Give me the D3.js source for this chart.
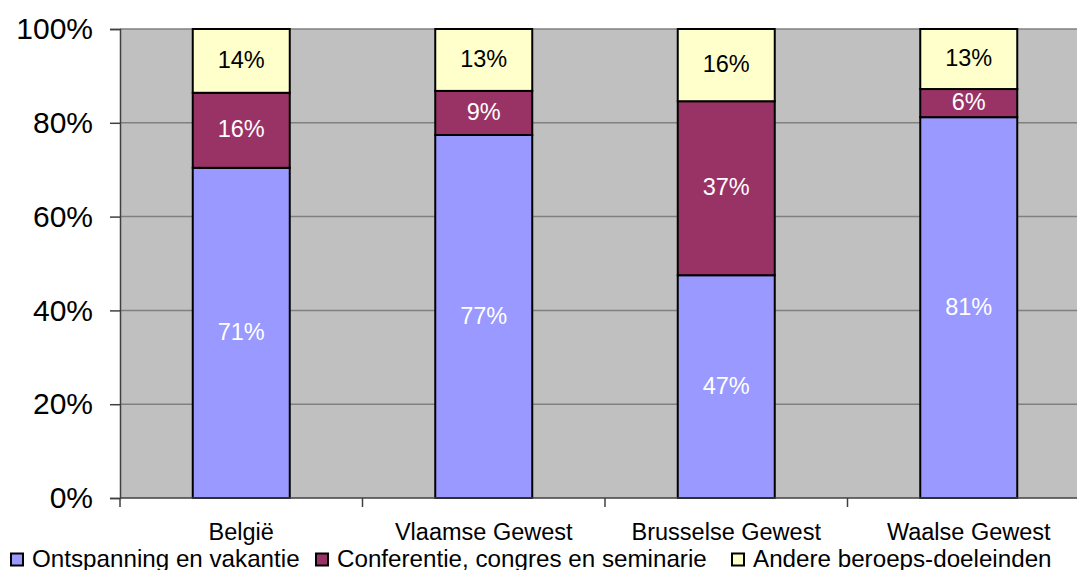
<!DOCTYPE html>
<html>
<head>
<meta charset="utf-8">
<script src="https://cdn.jsdelivr.net/npm/d3@7"></script>
<style>
  body { margin: 0; background: #fff; }
  svg { display: block; font-family: "Liberation Sans", Arial, sans-serif; }
</style>
</head>
<body>
<svg></svg>
<script>
let width = 1077,
    height = 570,
    plotLeft = 120,
    plotRight = 1090,
    plotTop = 29,
    plotBottom = 498

const categories = ["België", "Vlaamse Gewest", "Brusselse Gewest", "Waalse Gewest"]
const seriesNames = ["Ontspanning en vakantie", "Conferentie, congres en seminarie", "Andere beroeps-doeleinden"]
const colors = ["#9999FF", "#993366", "#FFFFCC"]
const textColors = ["#fff", "#fff", "#000"]

// shares (segment heights), labels as printed
const ontspanning = [70.4, 77.4, 47.5, 81.2]
const conferentie = [16.0, 9.4, 37.1, 6.0]
const andere = [13.6, 13.2, 15.4, 12.8]
const labelsOnt = ["71%", "77%", "47%", "81%"]
const labelsConf = ["16%", "9%", "37%", "6%"]
const labelsAnd = ["14%", "13%", "16%", "13%"]
const yTicks = [0, 20, 40, 60, 80, 100]

const series = [ontspanning, conferentie, andere]
const seriesLabels = [labelsOnt, labelsConf, labelsAnd]

let svg = d3.select("svg")
            .attr("width", width)
            .attr("height", height)

const x = d3.scaleBand()
    .domain(categories)
    .range([plotLeft, plotRight])
    .paddingInner(0.6)
    .paddingOuter(0.3)

const y = d3.scaleLinear()
    .domain([0, 100])
    .range([plotBottom, plotTop])

// plot background
svg.append("rect")
    .attr("x", plotLeft)
    .attr("y", plotTop)
    .attr("width", plotRight - plotLeft)
    .attr("height", plotBottom - plotTop)
    .attr("fill", "#C0C0C0")

// gridlines
svg.append("g")
    .selectAll("line")
    .data(yTicks.filter(t => t > 0))
    .enter()
    .append("line")
    .attr("x1", plotLeft)
    .attr("x2", plotRight)
    .attr("y1", d => y(d))
    .attr("y2", d => y(d))
    .attr("stroke", "#808080")
    .attr("stroke-width", 1.5)

// stacked bars
const rows = categories.map((c, i) => {
    let row = {cat: c}
    series.forEach((s, k) => row["s" + k] = s[i])
    return row
})
const stack = d3.stack().keys(["s0", "s1", "s2"])(rows)

stack.forEach((layer, k) => {
    const g = svg.append("g")
    g.selectAll("rect")
        .data(layer)
        .enter()
        .append("rect")
        .attr("x", d => x(d.data.cat))
        .attr("y", d => y(d[1]))
        .attr("width", x.bandwidth())
        .attr("height", d => y(d[0]) - y(d[1]))
        .attr("fill", colors[k])
        .attr("stroke", "#000")
        .attr("stroke-width", 2)

    g.selectAll("text")
        .data(layer)
        .enter()
        .append("text")
        .attr("x", d => x(d.data.cat) + x.bandwidth() / 2)
        .attr("y", d => (y(d[0]) + y(d[1])) / 2)
        .attr("dy", "0.3em")
        .attr("text-anchor", "middle")
        .attr("font-size", 23.5)
        .attr("fill", textColors[k])
        .text((d, i) => seriesLabels[k][i])
})

// y axis
const yAxis = svg.append("g")
    .attr("transform", `translate(${plotLeft},0)`)
    .call(d3.axisLeft(y).tickValues(yTicks).tickFormat(d => d + "%").tickSize(10).tickPadding(17))
yAxis.select(".domain").attr("stroke", "#404040").attr("stroke-width", 1.5)
yAxis.selectAll(".tick line").attr("stroke", "#404040").attr("stroke-width", 1.5)
yAxis.selectAll("text").attr("font-size", 30).attr("fill", "#000").attr("font-family", "Liberation Sans, Arial, sans-serif")

// x axis line with ticks between categories
svg.append("line")
    .attr("x1", plotLeft).attr("x2", plotRight)
    .attr("y1", plotBottom).attr("y2", plotBottom)
    .attr("stroke", "#404040")
    .attr("stroke-width", 1.5)

svg.append("g")
    .selectAll("line")
    .data(d3.range(categories.length + 1))
    .enter()
    .append("line")
    .attr("x1", i => plotLeft + i * x.step())
    .attr("x2", i => plotLeft + i * x.step())
    .attr("y1", plotBottom)
    .attr("y2", plotBottom + 9)
    .attr("stroke", "#404040")
    .attr("stroke-width", 1.5)

svg.append("g")
    .selectAll("text")
    .data(categories)
    .enter()
    .append("text")
    .attr("x", d => x(d) + x.bandwidth() / 2)
    .attr("y", 539.5)
    .attr("text-anchor", "middle")
    .attr("font-size", 23.5)
    .text(d => d)

// legend
const legendX = [11, 316, 732]
const legend = svg.append("g")
seriesNames.forEach((name, k) => {
    legend.append("rect")
        .attr("x", legendX[k])
        .attr("y", 553.5)
        .attr("width", 12)
        .attr("height", 12)
        .attr("fill", colors[k])
        .attr("stroke", "#000")
        .attr("stroke-width", 2)
    legend.append("text")
        .attr("x", legendX[k] + 21)
        .attr("y", 566.5)
        .attr("font-size", 24.2)
        .text(name)
})
</script>
</body>
</html>
